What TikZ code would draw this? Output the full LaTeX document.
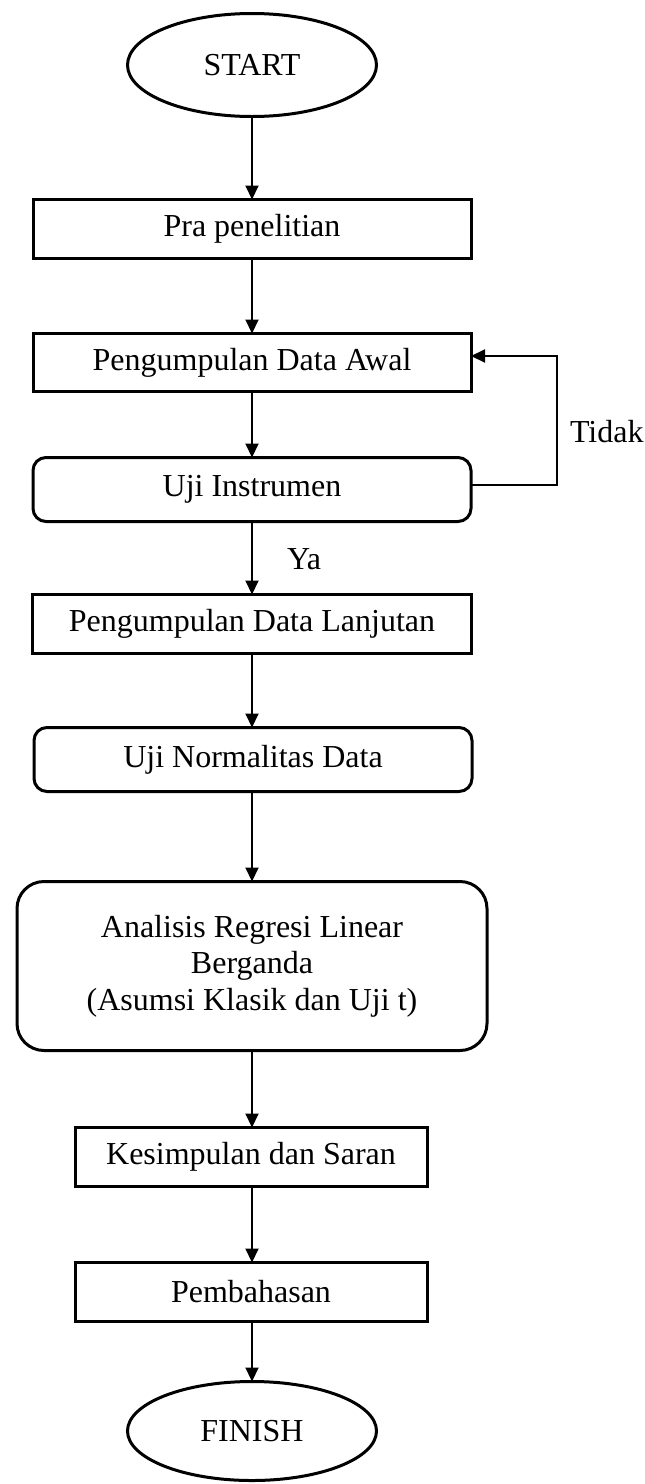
\documentclass[tikz,border=0pt]{standalone}
\usepackage{fontspec}
\setmainfont{Liberation Serif}
\usetikzlibrary{shapes.geometric,arrows.meta}
\begin{document}
\begin{tikzpicture}[x=1pt,y=-1pt,
  every node/.style={font=\fontsize{32}{36.7}\selectfont, inner sep=0pt, outer sep=0pt},
  term/.style={draw, ellipse, line width=3pt},
  procbox/.style={draw, rectangle, line width=3pt, align=center},
  roundbox/.style={procbox, rounded corners=13pt},
  arr/.style={line width=2pt, -{Triangle[length=14pt,width=13pt]}},
  lbl/.style={anchor=base west}
]
\useasboundingbox (0,0) rectangle (645,1484);
\node[term, minimum width=249pt, minimum height=103pt] (start) at (252,65) {START};
\node[procbox, minimum width=438pt, minimum height=59pt] (pra) at (252,229) {Pra penelitian};
\node[procbox, minimum width=438pt, minimum height=58pt] (awal) at (252,362.5) {Pengumpulan Data Awal};
\node[roundbox, minimum width=438pt, minimum height=64pt] (uji) at (252,489.5) {Uji Instrumen};
\node[procbox, minimum width=439pt, minimum height=59pt] (lanjut) at (252,624) {Pengumpulan Data Lanjutan};
\node[roundbox, minimum width=438pt, minimum height=64pt] (normal) at (253,759.5) {Uji Normalitas Data};
\node[roundbox, rounded corners=27pt, minimum width=470pt, minimum height=169pt] (analisis) at (252,966) {Analisis Regresi Linear\\Berganda\\(Asumsi Klasik dan Uji t)};
\node[procbox, minimum width=352pt, minimum height=59pt] (simpul) at (251,1157) {Kesimpulan dan Saran};
\node[procbox, minimum width=352pt, minimum height=59pt] (bahas) at (251,1292) {Pembahasan};
\node[term, minimum width=249pt, minimum height=99pt] (finish) at (252,1431) {FINISH};

\draw[arr] (start) -- (pra);
\draw[arr] (pra) -- (awal);
\draw[arr] (awal) -- (uji);
\draw[arr] (uji) -- (lanjut);
\draw[arr] (lanjut) -- (normal.north -| lanjut);
\draw[arr] (normal.south -| lanjut) -- (analisis);
\draw[arr] (analisis) -- (simpul.north -| analisis);
\draw[arr] (simpul.south -| analisis) -- (bahas.north -| analisis);
\draw[arr] (bahas.south -| analisis) -- (finish);
\coordinate (loop) at (557,0);
\draw[arr] ([yshift=4.5pt]uji.east) -| (loop |- awal.east) |- ([yshift=6.5pt]awal.east);
\node[lbl] (tidak) at (570,442) {Tidak};
\node[lbl] (ya) at (287,569) {Ya};
\end{tikzpicture}
\end{document}
